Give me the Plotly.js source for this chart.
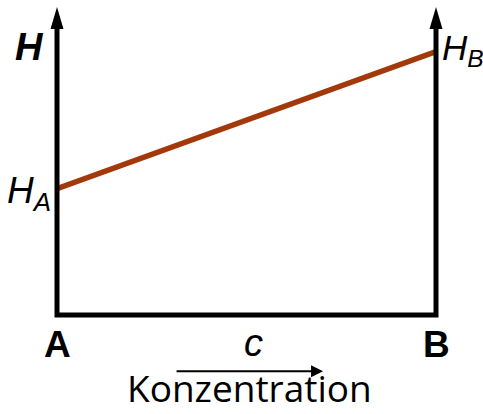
<!DOCTYPE html>
<html>
<head>
<meta charset="utf-8">
<script src="https://cdn.plot.ly/plotly-3.0.1.min.js"></script>
<style>html,body{margin:0;padding:0;background:#fff;}#chart{width:483px;height:414px;}</style>
</head>
<body>
<div id="chart"></div>
<script>
// Data
const pointLabels = ['A', 'B'];
const concentration = [0, 1];
const enthalpy = [0.41, 0.855];
const enthalpyLabels = ['H<sub>A</sub>', 'H<sub>B</sub>'];
const yAxisLabel = 'H';
const xAxisSymbol = 'c';
const xAxisLabel = 'Konzentration';

const FONT = 'Liberation Sans, Arial, sans-serif';
const lineTop = 0.94;

const trace = {
  x: concentration,
  y: enthalpy,
  mode: 'lines',
  line: {color: '#A3390B', width: 5.5},
  hoverinfo: 'skip',
  cliponaxis: false
};

const head = (xa) => ({
  type: 'path', xref: 'paper', yref: 'paper',
  xsizemode: 'pixel', ysizemode: 'pixel', xanchor: xa, yanchor: 1,
  path: 'M-6.5,-22 L0,0 L6.5,-22 Z',
  fillcolor: 'black', line: {width: 0}
});

const layout = {
  width: 483, height: 414,
  margin: {l: 57, r: 47, t: 7, b: 99},
  paper_bgcolor: '#fff', plot_bgcolor: '#fff',
  showlegend: false,
  xaxis: {range: [0, 1], visible: false, fixedrange: true},
  yaxis: {range: [0, 1], visible: false, fixedrange: true},
  shapes: [
    {type: 'path', xref: 'paper', yref: 'paper',
     path: `M0,${lineTop} L0,0 L1,0 L1,${lineTop}`,
     line: {color: 'black', width: 5}, layer: 'above'},
    head(0), head(1)
  ],
  annotations: [
    {xref: 'paper', yref: 'paper', x: 0, y: 1, xanchor: 'right', yanchor: 'middle',
     xshift: -11, yshift: -40, text: '<b><i>' + yAxisLabel + '</i></b>', showarrow: false,
     font: {family: FONT, size: 38, color: 'black'}},
    {xref: 'x', yref: 'y', x: concentration[0], y: enthalpy[0], xanchor: 'right', yanchor: 'middle',
     xshift: -4, yshift: -4, text: '<i>' + enthalpyLabels[0] + '</i>', showarrow: false,
     font: {family: FONT, size: 37, color: 'black'}},
    {xref: 'x', yref: 'y', x: concentration[1], y: enthalpy[1], xanchor: 'left', yanchor: 'middle',
     xshift: 4, yshift: 2, text: '<i>' + enthalpyLabels[1] + '</i>', showarrow: false,
     font: {family: FONT, size: 35, color: 'black'}},
    {xref: 'x', yref: 'paper', x: concentration[0], y: 0, xanchor: 'center', yanchor: 'middle',
     yshift: -29, text: '<b>' + pointLabels[0] + '</b>', showarrow: false,
     font: {family: FONT, size: 37, color: 'black'}},
    {xref: 'x', yref: 'paper', x: concentration[1], y: 0, xanchor: 'center', yanchor: 'middle',
     yshift: -29, text: '<b>' + pointLabels[1] + '</b>', showarrow: false,
     font: {family: FONT, size: 37, color: 'black'}},
    {xref: 'paper', yref: 'paper', x: 0.518, y: 0, xanchor: 'center', yanchor: 'middle',
     yshift: -28, borderpad: 0, text: '<i>' + xAxisSymbol + '</i>', showarrow: false,
     font: {family: FONT, size: 38, color: 'black'}},
    {xref: 'paper', yref: 'paper', x: 0.702, y: -0.183, ax: -148, ay: 0,
     text: '', showarrow: true, arrowhead: 2, arrowsize: 1.2, arrowwidth: 2, arrowcolor: 'black'},
    {xref: 'paper', yref: 'paper', x: 0.507, y: -99 / 308, xanchor: 'center', yanchor: 'bottom',
     yshift: 0, borderpad: 0, text: xAxisLabel, showarrow: false,
     font: {family: 'Open Sans, sans-serif', size: 37, color: 'black'}}
  ]
};

Plotly.newPlot('chart', [trace], layout, {displayModeBar: false, staticPlot: true});
</script>
</body>
</html>
